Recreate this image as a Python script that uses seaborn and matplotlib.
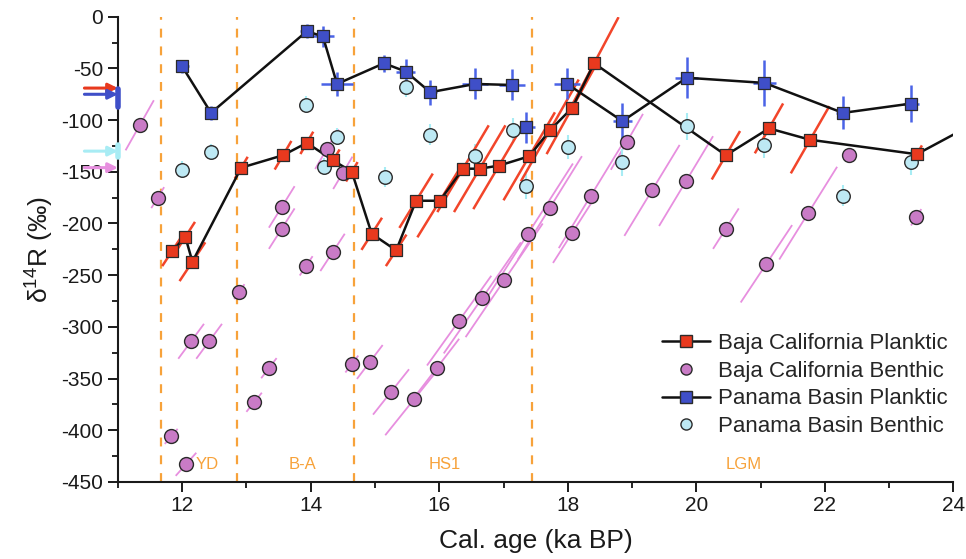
import numpy as np
import pandas as pd
import matplotlib
matplotlib.use("Agg")
import matplotlib.pyplot as plt
from matplotlib.lines import Line2D
from matplotlib.ticker import MultipleLocator
import seaborn as sns

# ---------------- data ----------------
bc_plank_age = [11.84, 12.05, 12.16, 12.92, 13.57, 13.94, 14.35, 14.64, 14.95, 15.33, 15.64, 16.01,
                16.37, 16.63, 16.93, 17.40, 17.72, 18.07, 18.41, 20.46, 21.13, 21.77, 23.43, 24.30]
bc_plank_d14r = [-227, -213, -237, -146, -134, -122, -139, -150, -210, -226, -178, -178,
                 -147, -147, -144, -135, -110, -88, -45, -134, -108, -119, -133, -104]
bc_plank_age_err = [0.15, 0.15, 0.2, 0.1, 0.13, 0.1, 0.1, 0.09, 0.16, 0.16, 0.26, 0.35,
                    0.4, 0.4, 0.4, 0.4, 0.45, 0.4, 0.38, 0.22, 0.22, 0.3, 0.08, 0.0]

bc_benth_age = [11.34, 11.62, 11.83, 12.06, 12.14, 12.42, 12.89, 13.12, 13.35, 13.55, 13.55, 13.93,
                14.25, 14.34, 14.50, 14.64, 14.92, 15.25, 15.61, 15.96, 16.31, 16.67, 17.01, 17.38,
                17.72, 18.07, 18.36, 18.92, 19.31, 19.84, 20.46, 21.09, 21.74, 22.37, 23.42]
bc_benth_d14r = [-105, -175, -406, -433, -314, -314, -266, -373, -340, -184, -205, -241,
                 -128, -228, -151, -336, -334, -363, -370, -340, -294, -272, -255, -210,
                 -185, -209, -173, -121, -168, -159, -205, -239, -190, -134, -194]
bc_benth_age_err = [0.22, 0.1, 0.1, 0.16, 0.2, 0.2, 0.08, 0.12, 0.12, 0.2, 0.2, 0.1,
                    0.18, 0.19, 0.15, 0.1, 0.2, 0.28, 0.45, 0.35, 0.5, 0.6, 0.6, 0.7,
                    0.5, 0.3, 0.5, 0.25, 0.43, 0.42, 0.2, 0.4, 0.45, 0.05, 0.08]

pb_plank_age = [12.0, 12.45, 13.94, 14.19, 14.41, 15.14, 15.48, 15.86, 16.56, 17.13,
                17.35, 17.99, 18.85, 19.85, 21.06, 22.28, 23.34]
pb_plank_d14r = [-48, -93, -14, -19, -65, -45, -53, -73, -65, -66,
                 -107, -65, -101, -59, -64, -93, -84]
pb_plank_seg = [0, 0, 0, 0, 0, 0, 0, 0, 0, 0, 1, 2, 2, 2, 2, 2, 2]
pb_plank_yerr = [6, 7, 7, 10, 12, 8, 12, 12, 15, 15, 15, 15, 18, 20, 22, 16, 18]
pb_plank_xerr = [0.1, 0.08, 0.1, 0.17, 0.25, 0.1, 0.15, 0.1, 0.2, 0.2, 0.14, 0.2,
                 0.15, 0.18, 0.18, 0.1, 0.12]

pb_benth_age = [12.0, 12.45, 13.93, 14.20, 14.41, 15.15, 15.49, 15.86, 16.56, 17.15,
                17.35, 18.01, 18.85, 19.85, 21.06, 22.28, 23.34]
pb_benth_d14r = [-148, -131, -85, -145, -116, -155, -68, -114, -135, -110,
                 -164, -126, -141, -106, -124, -173, -141]
pb_benth_yerr = [8, 8, 8, 8, 8, 10, 10, 10, 12, 12, 12, 12, 13, 13, 13, 10, 12]

modern_values = {"Baja California Planktic": -69, "Panama Basin Planktic": -75,
                 "Panama Basin Benthic": -130, "Baja California Benthic": -146}

event_bounds = [11.67, 12.86, 14.68, 17.45]
event_labels = ["YD", "B-A", "HS1", "LGM"]
event_label_age = [12.39, 13.88, 16.09, 20.74]

# ---------------- style ----------------
sns.set_theme(style="ticks")
plt.rcParams["font.family"] = ["Liberation Sans", "DejaVu Sans"]
plt.rcParams["mathtext.fontset"] = "custom"
plt.rcParams["mathtext.rm"] = "Liberation Sans"
plt.rcParams["mathtext.default"] = "regular"
plt.rcParams["axes.unicode_minus"] = False

RED = "#E8391E"
RED_ERR = "#F2452A"
PINK = "#C97BC6"
PINK_ERR = "#E78FDF"
BLUE = "#3F4FC8"
BLUE_ERR = "#4A63E6"
CYAN = "#BDE9F4"
CYAN_ERR = "#A8ECF4"
ORANGE = "#F7A23A"
EDGE = "#2B2B2B"

fig = plt.figure(figsize=(9.66, 5.59), dpi=100)
ax = fig.add_axes([0.122, 0.138, 0.865, 0.832])

bc_p = pd.DataFrame({"age": bc_plank_age, "d14r": bc_plank_d14r, "err": bc_plank_age_err})
bc_b = pd.DataFrame({"age": bc_benth_age, "d14r": bc_benth_d14r, "err": bc_benth_age_err})
pb_p = pd.DataFrame({"age": pb_plank_age, "d14r": pb_plank_d14r, "seg": pb_plank_seg,
                     "yerr": pb_plank_yerr, "xerr": pb_plank_xerr})
pb_b = pd.DataFrame({"age": pb_benth_age, "d14r": pb_benth_d14r, "yerr": pb_benth_yerr})


def slanted_errors(df, color, lw, z):
    # uncertainty in calendar age shifts delta14R along the radiocarbon decay slope
    for t, d, e in zip(df["age"], df["d14r"], df["err"]):
        if e <= 0:
            continue
        s = 123.0 * (1 + d / 1000.0)
        ax.plot([t - e, t + e], [d - s * e, d + s * e], color=color, lw=lw,
                solid_capstyle="butt", zorder=z)


# event boundaries
for b in event_bounds:
    ax.axvline(b, color=ORANGE, lw=1.6, ls=(0, (4, 4)), zorder=0.5)
for lab, a in zip(event_labels, event_label_age):
    ax.text(a, -433.5, lab, color=ORANGE, fontsize=12, ha="center", va="center", zorder=0.6)

# error bars
slanted_errors(bc_b, PINK_ERR, 1.3, 1)
slanted_errors(bc_p, RED_ERR, 1.8, 1.5)
ax.errorbar(pb_b["age"], pb_b["d14r"], yerr=pb_b["yerr"], fmt="none", ecolor=CYAN_ERR,
            elinewidth=1.5, zorder=1.2)
ax.errorbar(pb_p["age"], pb_p["d14r"], yerr=pb_p["yerr"], xerr=pb_p["xerr"], fmt="none",
            ecolor=BLUE_ERR, elinewidth=1.8, zorder=1.6)

# connecting lines
sns.lineplot(data=bc_p, x="age", y="d14r", sort=False, estimator=None, color="#111111",
             lw=1.8, ax=ax, legend=False, zorder=3)
sns.lineplot(data=pb_p, x="age", y="d14r", units="seg", sort=False, estimator=None,
             color="#111111", lw=1.8, ax=ax, legend=False, zorder=3)

# markers
sns.scatterplot(data=bc_b, x="age", y="d14r", marker="o", s=100, color=PINK,
                edgecolor=EDGE, linewidth=1.0, ax=ax, legend=False, zorder=4)
sns.scatterplot(data=pb_b, x="age", y="d14r", marker="o", s=95, color=CYAN,
                edgecolor=EDGE, linewidth=1.0, ax=ax, legend=False, zorder=4)
sns.scatterplot(data=bc_p, x="age", y="d14r", marker="s", s=85, color=RED,
                edgecolor=EDGE, linewidth=0.9, ax=ax, legend=False, zorder=5)
sns.scatterplot(data=pb_p, x="age", y="d14r", marker="s", s=85, color=BLUE,
                edgecolor=EDGE, linewidth=0.9, ax=ax, legend=False, zorder=5)

# modern-value arrows on the y axis
arrow_col = {"Baja California Planktic": RED, "Panama Basin Planktic": BLUE,
             "Panama Basin Benthic": CYAN_ERR, "Baja California Benthic": PINK_ERR}
for name, v in modern_values.items():
    ax.annotate("", xy=(11.0, v), xytext=(10.48, v), annotation_clip=False,
                arrowprops=dict(arrowstyle="-|>", color=arrow_col[name], lw=2.2,
                                mutation_scale=14, shrinkA=0, shrinkB=0))
ax.plot([11.0, 11.0], [modern_values["Panama Basin Planktic"] + 5,
                       modern_values["Panama Basin Planktic"] - 12],
        color=BLUE, lw=4, clip_on=False, zorder=6, solid_capstyle="round")
ax.plot([11.0, 11.0], [modern_values["Panama Basin Benthic"] + 6,
                       modern_values["Panama Basin Benthic"] - 6],
        color=CYAN_ERR, lw=4, clip_on=False, zorder=6)

# axes
ax.set_xlim(11, 24)
ax.set_ylim(-450, 0)
ax.xaxis.set_major_locator(MultipleLocator(2))
ax.xaxis.set_minor_locator(MultipleLocator(1))
ax.yaxis.set_major_locator(MultipleLocator(50))
ax.yaxis.set_minor_locator(MultipleLocator(25))
ax.tick_params(axis="both", which="major", length=7, width=1.4, labelsize=15,
               colors="#1a1a1a", direction="out")
ax.tick_params(axis="both", which="minor", length=4, width=1.4, direction="out")
for side in ["top", "right"]:
    ax.spines[side].set_visible(False)
for side in ["left", "bottom"]:
    ax.spines[side].set_linewidth(1.5)
    ax.spines[side].set_color("#1a1a1a")
ax.set_xlabel("Cal. age (ka BP)", fontsize=19, color="#1a1a1a", labelpad=10)
ax.set_ylabel("δ$^{14}$R (‰)", fontsize=19, color="#1a1a1a", labelpad=4)

# legend
handles = [
    Line2D([], [], color="#111111", lw=1.8, marker="s", markersize=8, markerfacecolor=RED,
           markeredgecolor=EDGE),
    Line2D([], [], ls="none", marker="o", markersize=8, markerfacecolor=PINK,
           markeredgecolor=EDGE),
    Line2D([], [], color="#111111", lw=1.8, marker="s", markersize=8, markerfacecolor=BLUE,
           markeredgecolor=EDGE),
    Line2D([], [], ls="none", marker="o", markersize=8, markerfacecolor=CYAN,
           markeredgecolor=EDGE),
]
labels = ["Baja California Planktic", "Baja California Benthic",
          "Panama Basin Planktic", "Panama Basin Benthic"]
leg = ax.legend(handles, labels, loc="upper left", bbox_to_anchor=(662 / 966, 1 - 333 / 559),
                bbox_transform=fig.transFigure, frameon=False,
                fontsize=16, handlelength=2.15, handletextpad=0.35, labelspacing=0.3,
                borderaxespad=0, borderpad=0)
leg.set_zorder(10)

fig.savefig("out.png", dpi=100)
